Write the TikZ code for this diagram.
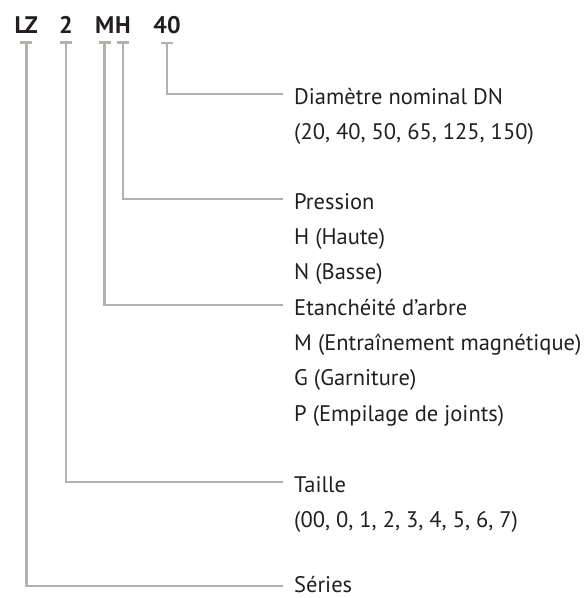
\documentclass[tikz,border=0pt]{standalone}
\usepackage{fontspec}
\setmainfont{PT Sans}
\usetikzlibrary{arrows.meta}
\definecolor{gristrait}{RGB}{178,178,172}
\definecolor{noirtexte}{RGB}{35,31,32}
\tikzset{
  code/.style={font=\fontsize{24}{24}\selectfont\bfseries, text=noirtexte, anchor=base, inner xsep=0pt, inner ysep=7.7pt},
  lab/.style={font=\fontsize{22.5}{22.5}\selectfont, text=noirtexte, anchor=base west, inner xsep=11pt, inner ysep=0pt},
  conn/.style={draw=gristrait, line width=2.5pt, {Bar[width=12pt]}-}
}
\begin{document}
\begin{tikzpicture}[x=1pt,y=-1pt]
\useasboundingbox (0,0) rectangle (587,598);
% designation
\node[code] (lz) at (26.3,33.3) {LZ};
\node[code] (two) at (66,33.3) {2};
\node[code] (m) at (104.7,33.3) {M};
\node[code] (h) at (123,33.3) {H};
\node[code] (forty) at (167,33.3) {40};
% textes
\node[lab] (dn) at (283,104) {Diamètre nominal DN};
\node[lab] (dnval) at (283,139.3) {(20, 40, 50, 65, 125, 150)};
\node[lab] (pression) at (283,209) {Pression};
\node[lab] (haute) at (283,244.3) {H (Haute)};
\node[lab] (basse) at (283,279.6) {N (Basse)};
\node[lab] (etanch) at (283,315) {Etanchéité d’arbre};
\node[lab] (magn) at (283,350.3) {M (Entraînement magnétique)};
\node[lab] (garn) at (283,385.6) {G (Garniture)};
\node[lab] (joints) at (283,421) {P (Empilage de joints)};
\node[lab] (taille) at (283,492) {Taille};
\node[lab] (tailleval) at (283,527.3) {(00, 0, 1, 2, 3, 4, 5, 6, 7)};
\node[lab] (series) at (283,592) {Séries};
% traits
\draw[conn] (forty.south) |- ([yshift=10pt]dn.base west);
\draw[conn] (h.south) |- ([yshift=10pt]pression.base west);
\draw[conn] (m.south) |- ([yshift=10pt]etanch.base west);
\draw[conn] (two.south) |- ([yshift=10pt]taille.base west);
\draw[conn] (lz.south) |- ([yshift=6pt]series.base west);
\end{tikzpicture}
\end{document}
